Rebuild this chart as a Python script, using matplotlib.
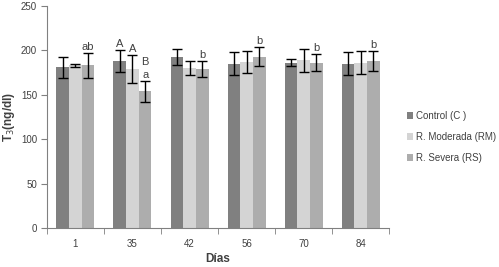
import matplotlib
matplotlib.use("Agg")
import matplotlib.pyplot as plt
import numpy as np

plt.rcParams['font.family'] = ['Liberation Sans', 'DejaVu Sans']

days = ["1", "35", "42", "56", "70", "84"]
series = ["Control (C )", "R. Moderada (RM)", "R. Severa (RS)"]
control = [181, 188, 192, 185, 186, 185]
control_err = [12, 12, 9, 13, 4, 13]
moderada = [183, 179, 180, 187, 189, 186]
moderada_err = [2, 16, 8, 12, 13, 13]
severa = [183, 154, 179, 193, 186, 188]
severa_err = [14, 12, 9, 11, 9.5, 11]
letters_rs = ["ab", "a", "b", "b", "b", "b"]
letters_35 = ["A", "A", "B"]

colors = ["#808080", "#d4d4d4", "#adadad"]
txt = "#404040"

fig = plt.figure(figsize=(4.99, 2.67), dpi=100)
ax = fig.add_axes([0.094, 0.146, 0.686, 0.832])

x = np.arange(len(days))
w = 0.222
vals = [control, moderada, severa]
errs = [control_err, moderada_err, severa_err]
for i, (v, e, c, s) in enumerate(zip(vals, errs, colors, series)):
    ax.bar(x + (i - 1) * w, v, width=w, color=c, label=s, zorder=2)
    ax.errorbar(x + (i - 1) * w, v, yerr=e, fmt='none', ecolor='black',
                elinewidth=1.0, capsize=3.5, capthick=1.0, zorder=3)

# letters above RS bars
for j in range(len(days)):
    xx = x[j] + w
    top = severa[j] + severa_err[j]
    ax.text(xx, top + 1, letters_rs[j], ha='center', va='bottom', fontsize=8, color=txt)
# capital letters day 35
ax.text(x[1] - w, control[1] + control_err[1] + 1, letters_35[0], ha='center', va='bottom', fontsize=8, color=txt)
ax.text(x[1], moderada[1] + moderada_err[1] + 1, letters_35[1], ha='center', va='bottom', fontsize=8, color=txt)
ax.text(x[1] + w, 181, letters_35[2], ha='center', va='bottom', fontsize=8, color=txt)

ax.set_xlim(-0.5, len(days) - 0.5)
ax.set_ylim(0, 250)
ax.set_yticks(np.arange(0, 251, 50))
ax.set_xticks(x)
ax.set_xticklabels(days)
ax.set_xticks(np.arange(-0.5, len(days), 1.0), minor=True)
ax.tick_params(axis='x', which='major', length=0, pad=8, labelsize=7, labelcolor=txt)
ax.tick_params(axis='x', which='minor', length=4, color='#808080')
ax.tick_params(axis='y', length=4, color='#808080', labelsize=7, labelcolor=txt, pad=3)
for sp in ['top', 'right']:
    ax.spines[sp].set_visible(False)
for sp in ['left', 'bottom']:
    ax.spines[sp].set_color('#808080')
    ax.spines[sp].set_linewidth(0.8)

ax.set_xlabel("Días", fontsize=8.5, fontweight='bold', color=txt, labelpad=3)
ax.set_ylabel("T$_3$(ng/dl)", fontsize=8.5, fontweight='bold', color=txt, labelpad=3)

ax.legend(loc='center left', bbox_to_anchor=(1.025, 0.41), frameon=False,
          fontsize=7, handlelength=0.7, handleheight=0.7, handletextpad=0.3,
          labelspacing=1.1, labelcolor=txt)

fig.savefig("out.png", dpi=100)
